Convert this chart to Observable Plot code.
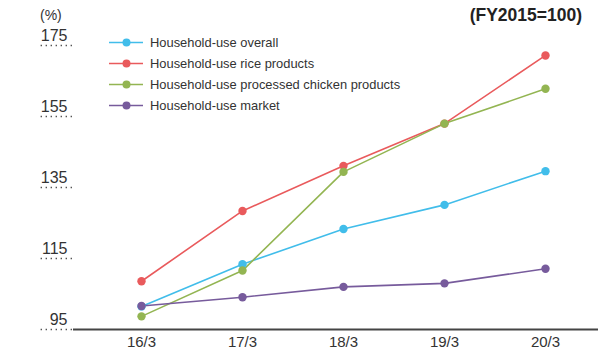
<!DOCTYPE html>
<html><head><meta charset="utf-8">
<script src="https://cdn.jsdelivr.net/npm/d3@7"></script>
<script src="https://cdn.jsdelivr.net/npm/@observablehq/plot@0.6"></script>
<style>
body{margin:0;background:#fff;}
#chart{position:relative;width:614px;height:352px;font-family:"Liberation Sans",Arial,sans-serif;}
</style></head>
<body><div id="chart"></div>
<script>
const periods = ["16/3","17/3","18/3","19/3","20/3"];
const seriesNames = ["Household-use overall","Household-use rice products","Household-use processed chicken products","Household-use market"];
const seriesColors = ["#41bdea","#e95a5c","#93b552","#775b9c"];
const overall = [101.5,113.4,123.3,130.1,139.6];
const rice = [108.6,128.4,141.1,153.0,172.2];
const chicken = [98.7,111.6,139.4,153.0,162.8];
const market = [101.6,104.1,107.0,108.0,112.1];
const yTicks = [95,115,135,155,175];
const unitLabel = "(%)";
const baseLabel = "(FY2015=100)";

const allValues = [overall, rice, chicken, market];
const data = [];
allValues.forEach((vals, s) => vals.forEach((v, i) => data.push({period: periods[i], value: v, series: seriesNames[s]})));

const W = 614, H = 352, ML = 73, MR = 16, MT = 45, MB = 23;
const plot = Plot.plot({
  width: W, height: H,
  marginLeft: ML, marginRight: MR, marginTop: MT, marginBottom: MB,
  style: {fontFamily: "'Liberation Sans', Arial, sans-serif", background: "#fff", color: "#333"},
  x: {type: "point", domain: periods, padding: 0, insetLeft: 67, insetRight: 52, axis: null},
  y: {domain: [95, 175], axis: null},
  color: {domain: seriesNames, range: seriesColors},
  marks: [
    Plot.axisY(yTicks, {anchor: "left", tickSize: 32, dx: -1, tickFormat: () => "", stroke: "#555", strokeWidth: 1.6, strokeDasharray: "1.4 3.6", label: null}),
    Plot.text(yTicks, {y: d => d, frameAnchor: "left", dx: -6, dy: -10, textAnchor: "end", fontSize: 16, fill: "#333", text: d => String(d)}),
    Plot.ruleY([95], {stroke: "#444", strokeWidth: 2}),
    Plot.axisX(periods, {anchor: "bottom", tickSize: 0, tickPadding: 7, fontSize: 15, fill: "#333", label: null}),
    Plot.line(data, {x: "period", y: "value", z: "series", stroke: "series", strokeWidth: 1.6}),
    Plot.dot(data, {x: "period", y: "value", fill: "series", r: 4.2})
  ]
});

const svg = d3.select(plot);
svg.append("text").attr("x", 40).attr("y", 20).attr("text-anchor", "start").attr("font-size", 14).attr("fill", "#333").text(unitLabel);
svg.append("text").attr("x", 582).attr("y", 21).attr("text-anchor", "end").attr("font-size", 17.5).attr("font-weight", "bold").attr("fill", "#222").text(baseLabel);
const lg = svg.append("g").attr("text-anchor", "start");
seriesNames.forEach((name, i) => {
  const y = 42.5 + i * 21;
  lg.append("line").attr("x1", 109).attr("x2", 143).attr("y1", y).attr("y2", y).attr("stroke", seriesColors[i]).attr("stroke-width", 1.6);
  lg.append("circle").attr("cx", 126.5).attr("cy", y).attr("r", 4).attr("fill", seriesColors[i]);
  lg.append("text").attr("x", 150).attr("y", y).attr("dy", "0.36em").attr("text-anchor", "start").attr("font-size", 12.9).attr("fill", "#333").text(name);
});
document.getElementById("chart").appendChild(plot);
</script></body></html>
